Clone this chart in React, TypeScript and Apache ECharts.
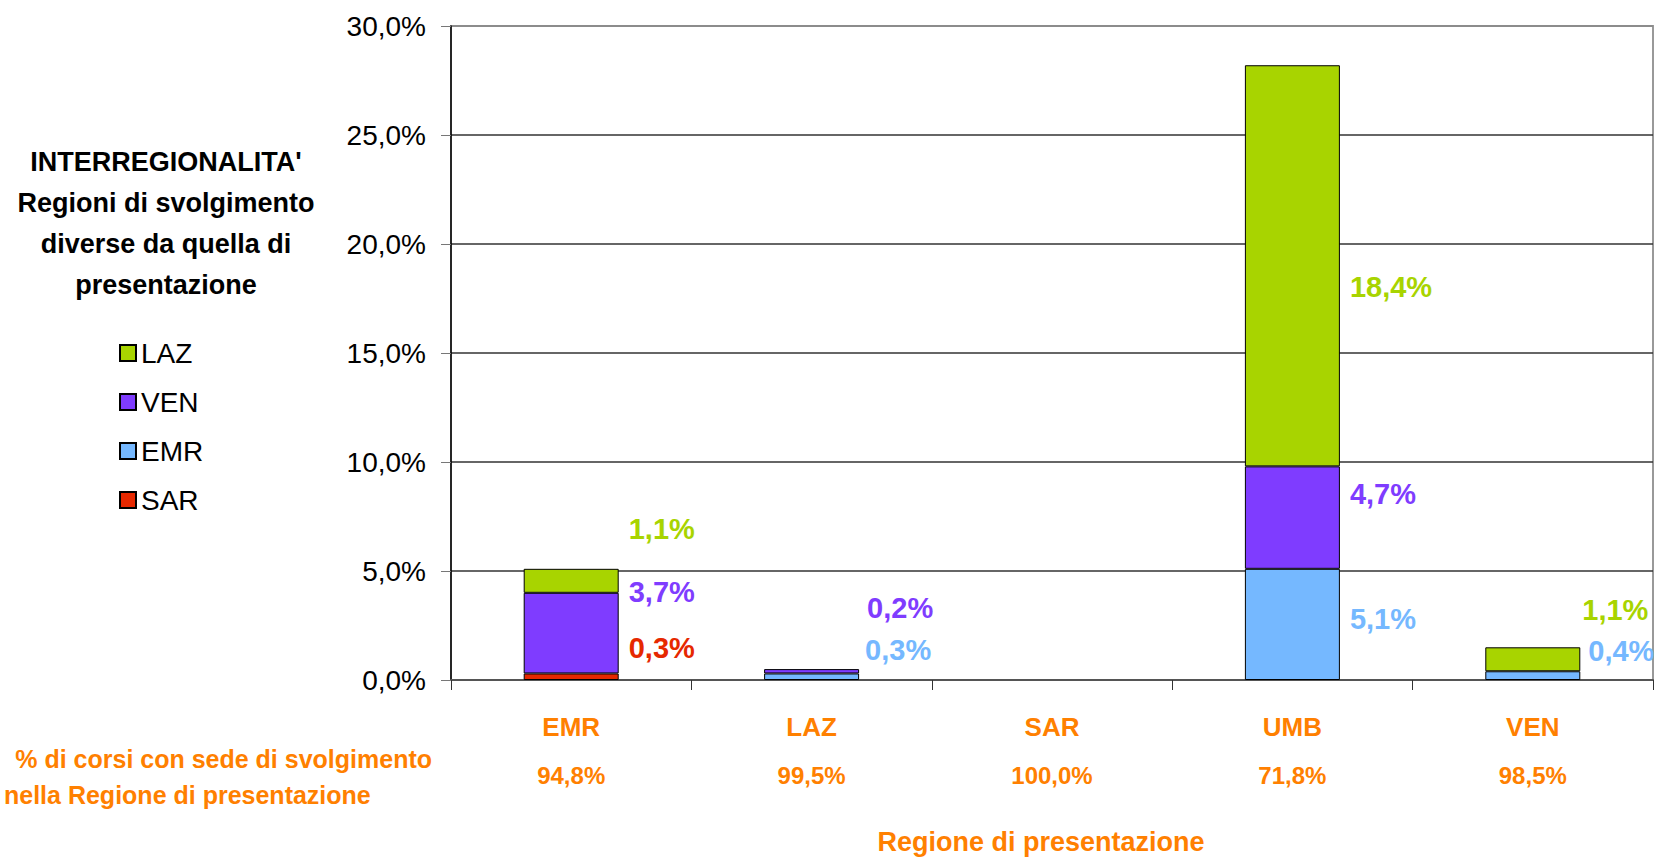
import React, { useEffect, useRef } from "react";
import * as echarts from "echarts";

// ---- data ----
const CATEGORIES = ["EMR", "LAZ", "SAR", "UMB", "VEN"];
const SHARE_IN_OWN_REGION = [94.8, 99.5, 100.0, 71.8, 98.5];
const SAR_VALUES: (number | null)[] = [0.3, null, null, null, null];
const EMR_VALUES: (number | null)[] = [null, 0.3, null, 5.1, 0.4];
const VEN_VALUES: (number | null)[] = [3.7, 0.2, null, 4.7, null];
const LAZ_VALUES: (number | null)[] = [1.1, null, null, 18.4, 1.1];
const Y_MIN = 0;
const Y_MAX = 30;
const Y_STEP = 5;

// ---- label placement (style only) ----
const LABEL_OFFSETS: Record<string, number[][]> = {
  SAR: [[2, -29], [0, 0], [0, 0], [0, 0], [0, 0]],
  EMR: [[0, 0], [-2, -27], [0, 0], [2, -5], [0, -25]],
  VEN: [[2, -41], [0, -63], [0, 0], [2, -24], [0, 0]],
  LAZ: [[2, -52], [0, 0], [0, 0], [2, 21], [-6, -49]],
};

const COLORS: Record<string, string> = {
  LAZ: "#A8D400",
  VEN: "#7F3CFF",
  EMR: "#75B8FF",
  SAR: "#E62800",
};

const ORANGE = "#FF8000";
const FONT = "'Liberation Sans', Arial, sans-serif";

const fmt = (v: number) => v.toFixed(1).replace(".", ",") + "%";

function makeSeries(name: string, values: (number | null)[]) {
  return {
    name,
    type: "bar",
    stack: "total",
    barWidth: 95,
    data: values.map((v, i) =>
      v == null ? null : { value: v, label: { offset: LABEL_OFFSETS[name][i] } }
    ),
    itemStyle: { color: COLORS[name], borderColor: "#000", borderWidth: 1 },
    label: {
      show: true,
      position: "right",
      distance: 8,
      formatter: (p: any) => fmt(p.value),
      color: COLORS[name],
      fontSize: 29,
      fontWeight: "bold",
      fontFamily: FONT,
    },
    emphasis: { disabled: true },
  };
}

export default function App() {
  const ref = useRef<HTMLDivElement>(null);

  useEffect(() => {
    if (!ref.current) return;
    const chart = echarts.init(ref.current, null, { renderer: "svg" });
    const option: any = {
      animation: false,
      backgroundColor: "#fff",
      grid: {
        left: 451,
        right: 4,
        top: 26,
        bottom: 177,
        show: true,
        borderColor: "#999",
        borderWidth: 2,
      },
      legend: {
        data: ["LAZ", "VEN", "EMR", "SAR"],
        orient: "vertical",
        left: 119,
        top: 339,
        padding: 0,
        itemWidth: 16,
        itemHeight: 16,
        itemGap: 21,
        icon: "rect",
        textStyle: {
          fontSize: 28,
          fontFamily: FONT,
          color: "#000",
          lineHeight: 28,
        },
      },
      xAxis: {
        type: "category",
        data: CATEGORIES,
        axisLine: { lineStyle: { color: "#555", width: 2 } },
        axisTick: { show: true, alignWithLabel: false, length: 10, lineStyle: { color: "#333" } },
        axisLabel: {
          margin: 23,
          interval: 0,
          formatter: (value: string, idx: number) =>
            `{n|${value}}\n{p|${fmt(SHARE_IN_OWN_REGION[idx])}}`,
          rich: {
            n: {
              fontSize: 26,
              fontWeight: "bold",
              color: ORANGE,
              fontFamily: FONT,
              lineHeight: 48,
            },
            p: {
              fontSize: 24,
              fontWeight: "bold",
              color: ORANGE,
              fontFamily: FONT,
              lineHeight: 48,
            },
          },
        },
      },
      yAxis: {
        type: "value",
        min: Y_MIN,
        max: Y_MAX,
        interval: Y_STEP,
        axisLine: { show: true, lineStyle: { color: "#000", width: 1.5 } },
        axisTick: { show: true, length: 10, lineStyle: { color: "#777" } },
        axisLabel: {
          margin: 25,
          formatter: (v: number) => fmt(v),
          fontSize: 28,
          fontFamily: FONT,
          color: "#000",
        },
        splitLine: {
          show: true,
          lineStyle: {
            color: ["#555", "#333", "#333", "#333", "#333", "#333", "#888"],
            width: 1.5,
          },
        },
      },
      graphic: [
        {
          type: "text",
          x: 166,
          y: 141,
          style: {
            text: "INTERREGIONALITA'\nRegioni di svolgimento\ndiverse da quella di\npresentazione",
            font: `bold 27px ${FONT}`,
            fill: "#000",
            lineHeight: 41,
            textAlign: "center",
            textVerticalAlign: "top",
          },
        },
        {
          type: "text",
          x: 432,
          y: 759,
          style: {
            text: "% di corsi con sede di svolgimento",
            font: `bold 25px ${FONT}`,
            fill: ORANGE,
            textAlign: "right",
            textVerticalAlign: "middle",
          },
        },
        {
          type: "text",
          x: 4,
          y: 795,
          style: {
            text: "nella Regione di presentazione",
            font: `bold 25px ${FONT}`,
            fill: ORANGE,
            textAlign: "left",
            textVerticalAlign: "middle",
          },
        },
        {
          type: "text",
          x: 1041,
          y: 842,
          style: {
            text: "Regione di presentazione",
            font: `bold 27px ${FONT}`,
            fill: ORANGE,
            textAlign: "center",
            textVerticalAlign: "middle",
          },
        },
      ],
      series: [
        makeSeries("SAR", SAR_VALUES),
        makeSeries("EMR", EMR_VALUES),
        makeSeries("VEN", VEN_VALUES),
        makeSeries("LAZ", LAZ_VALUES),
      ],
    };
    chart.setOption(option);
    return () => chart.dispose();
  }, []);

  return (
    <div
      ref={ref}
      style={{ position: "absolute", left: 0, top: 0, width: 1657, height: 857 }}
    />
  );
}
